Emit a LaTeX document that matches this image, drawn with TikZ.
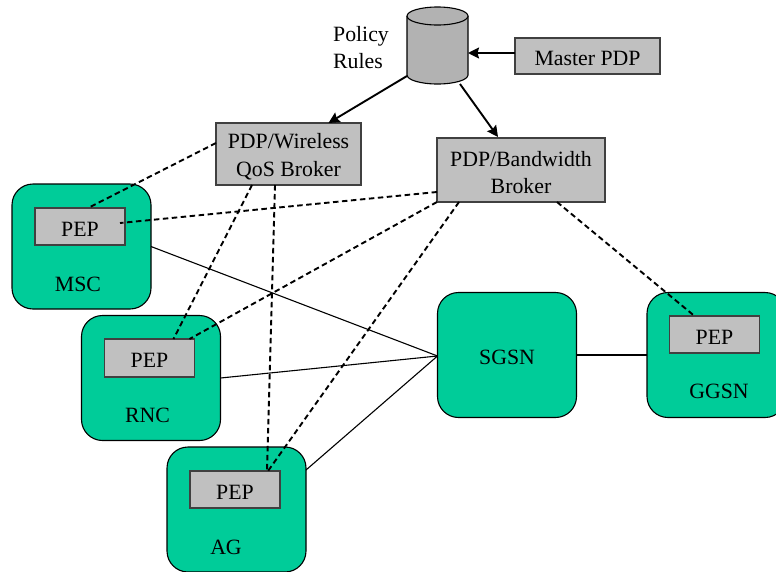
\documentclass[tikz,border=0pt]{standalone}
\usepackage{fontspec}
\setmainfont{Liberation Serif}
\usetikzlibrary{arrows.meta}
\definecolor{boxgray}{HTML}{C0C0C0}
\definecolor{cylgray}{HTML}{B2B2B2}
\definecolor{nodegreen}{HTML}{00CC99}
\tikzset{
  x=1pt,y=-1pt,
  every node/.style={font=\fontsize{21.8}{27.5}\selectfont,inner sep=0pt,outer sep=0pt,align=center},
  graybox/.style={draw=black!75,line width=1.1pt,fill=boxgray,minimum width=#1},
  graybox/.default=90pt,
  netnode/.style={draw=black,line width=1.1pt,fill=nodegreen,rounded corners=21pt,minimum width=139pt,minimum height=125pt},
  lowtext/.style={label={[yshift=-2.5pt]center:#1}},
  arrowline/.style={line width=1.9pt,-{Stealth[length=11pt,width=11pt,inset=1.5pt]}},
  dashline/.style={line width=1.9pt,dash pattern=on 5.5pt off 3.5pt},
  solidline/.style={line width=1.1pt},
  cylpart/.style={draw=black,line width=1.1pt,fill=cylgray},
}
\begin{document}
\begin{tikzpicture}
\useasboundingbox (0,0) rectangle (776,571);
% network elements
\node[netnode] (msc) at (81.5,246.5) {};
\node[netnode] (rnc) at (151,378) {};
\node[netnode] (ag) at (236.5,509.5) {};
\node[netnode,lowtext=SGSN] (sgsn) at (507,355) {};
\node[netnode] (ggsn) at (716.5,355) {};
% solid links
\draw[solidline] (msc.east) -- ([yshift=-1pt]sgsn.west);
\draw[solidline] (rnc.east) -- ([yshift=-1pt]sgsn.west);
\draw[solidline] ([yshift=39.5pt]ag.east) -- ([yshift=-1pt]sgsn.west);
\draw[solidline] (sgsn.east) -- (ggsn.west);
% PEP boxes
\node[graybox,minimum height=37pt,lowtext=PEP] (pepm) at (80,226.5) {};
\node[graybox,minimum height=38pt,lowtext=PEP] (pepr) at (149.5,358) {};
\node[graybox,minimum height=37pt,lowtext=PEP] (pepa) at (235,489.5) {};
\node[graybox,minimum height=37pt,lowtext=PEP] (pepg) at (714.5,334.5) {};
% labels inside elements
\node (lmsc) at (78,284.5) {MSC};
\node (lrnc) at (147.5,415) {RNC};
\node (lag) at (226,547) {AG};
\node (lggsn) at (719,391) {GGSN};
% policy infrastructure
\node[graybox=145pt,minimum height=36pt,lowtext=Master PDP] (master) at (587.5,56) {};
\node[graybox=145pt,minimum height=62pt,lowtext={PDP/Wireless\\QoS Broker}] (wq) at (288.5,154) {};
\node[graybox=168pt,minimum height=64pt,lowtext={PDP/Bandwidth\\Broker}] (bw) at (521,170) {};
\node[minimum width=61pt,minimum height=77pt] (db) at (437.5,45.5) {};
\draw[cylpart] ([yshift=-9pt]db.north west) -- ([yshift=9pt]db.south west)
  arc[start angle=180,end angle=360,x radius=30.5pt,y radius=9pt]
  -- ([yshift=-9pt]db.north east)
  arc[start angle=0,end angle=180,x radius=30.5pt,y radius=9pt] -- cycle;
\draw[cylpart] ([yshift=-9pt]db.north west)
  arc[start angle=180,end angle=360,x radius=30.5pt,y radius=9pt];
\node[align=left] (policy) at (361,47.5) {Policy\\Rules};
% arrows
\draw[arrowline] (master.west |- 0,53) -- (db.east |- 0,53);
\draw[arrowline] ([yshift=8pt]db.south west) -- ([xshift=40pt]wq.north);
\draw[arrowline] ([xshift=22.5pt]db.south) -- ([xshift=-23pt,yshift=1pt]bw.north);
% dashed policy links
\draw[dashline] ([yshift=11pt]wq.west) -- ([xshift=8pt]pepm.north);
\draw[dashline] ([yshift=-22pt]bw.west) -- ([xshift=-5pt,yshift=3.5pt]pepm.east);
\draw[dashline] (bw.south west) -- ([xshift=40pt]pepr.north);
\draw[dashline] ([xshift=36pt]wq.south west) -- ([xshift=24pt]pepr.north);
\draw[dashline] ([xshift=59pt]wq.south west) -- ([xshift=32pt]pepa.north);
\draw[dashline] ([xshift=22pt]bw.south west) -- ([xshift=33pt]pepa.north);
\draw[dashline] ([xshift=36pt]bw.south) -- ([xshift=-20pt]pepg.north);
\end{tikzpicture}
\end{document}
